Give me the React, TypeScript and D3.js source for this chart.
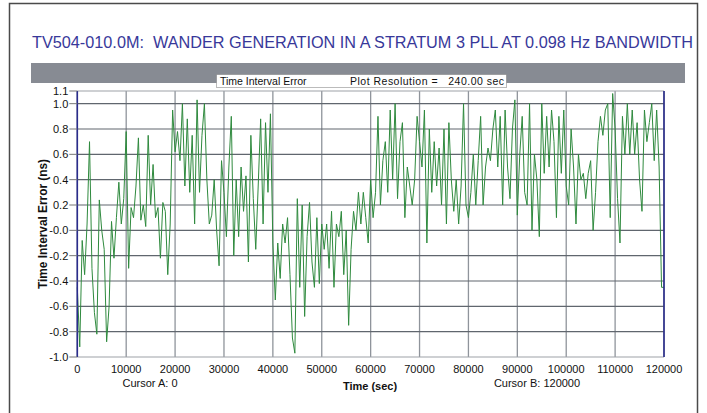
import React, { useEffect, useRef } from "react";
import * as d3 from "d3";

// TIE samples (ns), one every 500 s
const tie0to10k = [-0.45, -0.92, -0.08, -0.35, 0.05, 0.7, -0.3, -0.65, -0.82, 0.24, 0.0, -0.15, -0.88, -0.6, 0.07, -0.22, 0.1, 0.38, 0.05, 0.25];
const tie10to20k = [0.78, -0.3, 0.18, 0.1, 0.35, 0.73, 0.08, 0.2, 0.03, 0.75, 0.2, 0.52, 0.1, 0.18, -0.22, 0.22, 0.15, -0.35, 0.05, 0.95];
const tie20to30k = [0.62, 0.78, 0.55, 1.0, 0.35, 0.88, 0.3, 0.75, 0.05, 1.03, 0.3, 0.75, 1.0, 0.4, 0.05, 0.12, 0.4, 0.0, -0.28, 0.55];
const tie30to40k = [0.3, -0.05, 0.5, 0.9, -0.2, 0.4, -0.05, 0.5, 0.15, 0.43, -0.25, 0.75, 0.25, -0.15, 0.35, 0.88, 0.05, 0.85, 0.3, 0.92];
const tie40to50k = [-0.1, -0.55, -0.1, -0.38, 0.05, -0.1, 0.1, -0.35, -0.85, -0.97, 0.25, -0.45, 0.2, -0.68, -0.05, 0.22, -0.25, -0.45, 0.1, -0.42];
const tie50to60k = [0.05, -0.15, 0.05, -0.3, 0.15, -0.45, 0.05, -0.05, 0.15, -0.35, 0.0, -0.75, -0.15, 0.15, 0.0, 0.3, 0.05, 0.3, 0.1, -0.1];
const tie60to70k = [0.4, 0.1, 0.3, 0.9, 0.2, 0.55, 0.7, 0.3, 0.95, 0.4, 1.0, 0.25, 0.7, 0.85, 0.1, 0.5, 0.35, 0.2, 0.4, 0.9];
const tie70to80k = [0.7, 0.5, 0.95, -0.1, 0.8, 0.3, 0.7, 0.35, 0.65, 0.2, 0.8, 0.05, 0.85, 0.4, 0.15, 0.4, 0.05, 0.35, 1.0, 0.2];
const tie80to90k = [0.1, 0.3, 0.6, 0.2, 0.55, 0.9, 0.2, 0.5, 0.65, 0.55, 0.8, 0.95, 0.5, 0.9, 0.2, 0.95, 0.5, 0.25, 0.8, 1.03];
const tie90to100k = [0.12, 0.6, 0.9, 0.3, 0.2, 1.0, 0.0, 0.6, 0.4, -0.05, 1.0, 0.45, 0.9, 0.5, 0.95, 0.7, 0.1, 0.9, 0.45, 0.95];
const tie100to110k = [0.35, 0.2, 0.8, 0.5, 0.05, 0.6, 0.4, 0.45, 0.25, 0.45, 0.55, 0.0, 0.3, 0.7, 0.9, 0.75, 0.95, 1.0, 0.1, 1.08];
const tie110to120k = [0.8, 0.25, -0.1, 0.9, 0.6, 1.0, 0.6, 0.95, 0.6, 0.85, 0.4, 0.15, 0.95, 0.7, 0.85, 1.0, 0.55, 0.95, 0.5, -0.45, -0.45];

const sampleStep = 500; // sec between samples

const xTicks = [0, 10000, 20000, 30000, 40000, 50000, 60000, 70000, 80000, 90000, 100000, 110000, 120000];
const yTicks = [-1.0, -0.8, -0.6, -0.4, -0.2, 0.0, 0.2, 0.4, 0.6, 0.8, 1.0, 1.1];
const yTickLabels = ["-1.0", "-0.8", "-0.6", "-0.4", "-0.2", "-0.0", "0.2", "0.4", "0.6", "0.8", "1.0", "1.1"];

const title = "TV504-010.0M:  WANDER GENERATION IN A STRATUM 3 PLL AT 0.098 Hz BANDWIDTH";
const FONT = "'Liberation Sans', Arial, Helvetica, sans-serif";

export default function App() {
  const svgRef = useRef<SVGSVGElement>(null);

  useEffect(() => {
    if (!svgRef.current) return;
    const svg = d3.select(svgRef.current);
    svg.selectAll("*").remove();

    const values = [
      ...tie0to10k, ...tie10to20k, ...tie20to30k, ...tie30to40k,
      ...tie40to50k, ...tie50to60k, ...tie60to70k, ...tie70to80k,
      ...tie80to90k, ...tie90to100k, ...tie100to110k, ...tie110to120k,
    ];
    const data = values.map((v, i) => ({ t: i * sampleStep, v }));

    const left = 77.3, right = 664, top = 91, bottom = 357;

    const x = d3.scaleLinear().domain([0, 120000]).range([left, right]);
    const y = d3.scaleLinear().domain([-1, 1.1]).range([bottom, top]);

    // outer frame
    svg.append("rect")
      .attr("x", 9.5).attr("y", 3.5)
      .attr("width", 688).attr("height", 420)
      .attr("fill", "#fff")
      .attr("stroke", "#4a4a4a")
      .attr("stroke-width", 1.5);

    svg.append("text")
      .attr("x", 32).attr("y", 48)
      .attr("textLength", 661)
      .attr("lengthAdjust", "spacingAndGlyphs")
      .attr("fill", "#38389a")
      .style("font-family", FONT)
      .style("font-size", "16px")
      .style("white-space", "pre")
      .text(title);

    // gray header bar
    svg.append("rect")
      .attr("x", 31).attr("y", 63)
      .attr("width", 654).attr("height", 20)
      .attr("fill", "#878b93");

    // legend-ish box
    svg.append("rect")
      .attr("x", 216.5).attr("y", 74.5)
      .attr("width", 290).attr("height", 13)
      .attr("fill", "#fff")
      .attr("stroke", "#777")
      .attr("stroke-dasharray", "1,1");
    svg.append("text")
      .attr("x", 220).attr("y", 85)
      .attr("fill", "#111")
      .style("font-family", FONT)
      .style("font-size", "10.5px")
      .text("Time Interval Error");
    svg.append("text")
      .attr("x", 350).attr("y", 85)
      .attr("textLength", 154)
      .attr("lengthAdjust", "spacing")
      .attr("fill", "#111")
      .style("font-family", FONT)
      .style("font-size", "10.5px")
      .style("white-space", "pre")
      .text("Plot Resolution =   240.00 sec");

    const g = svg.append("g");

    // grid
    g.selectAll("line.vg")
      .data(xTicks)
      .join("line")
      .attr("class", "vg")
      .attr("x1", (d) => x(d)).attr("x2", (d) => x(d))
      .attr("y1", top).attr("y2", bottom)
      .attr("stroke", "#8f949b")
      .attr("stroke-width", 1.3);

    g.selectAll("line.hg")
      .data(yTicks)
      .join("line")
      .attr("class", "hg")
      .attr("x1", left).attr("x2", right)
      .attr("y1", (d) => y(d)).attr("y2", (d) => y(d))
      .attr("stroke", (d) => (d === 1.1 || d === -1.0 ? "#9ea2a8" : "#60666e"))
      .attr("stroke-width", 1.2);

    // the trace
    const line = d3.line<{ t: number; v: number }>()
      .x((d) => x(d.t))
      .y((d) => y(d.v));

    g.append("path")
      .datum(data)
      .attr("fill", "none")
      .attr("stroke", "#2f8a3e")
      .attr("stroke-width", 1)
      .attr("stroke-linejoin", "round")
      .attr("d", line);

    // left axis + right edge
    g.append("line")
      .attr("x1", left).attr("x2", left)
      .attr("y1", top).attr("y2", bottom)
      .attr("stroke", "#2a2c8c").attr("stroke-width", 1.6);
    g.append("line")
      .attr("x1", right).attr("x2", right)
      .attr("y1", top).attr("y2", bottom)
      .attr("stroke", "#2a2c8c").attr("stroke-width", 1.6);

    // y ticks + labels
    const yAxis = g.append("g");
    yTicks.forEach((d, i) => {
      yAxis.append("line")
        .attr("x1", left - 8).attr("x2", left)
        .attr("y1", y(d)).attr("y2", y(d))
        .attr("stroke", "#777").attr("stroke-width", 1);
      yAxis.append("text")
        .attr("x", left - 9).attr("y", y(d) + 4)
        .attr("text-anchor", "end")
        .attr("fill", "#111")
        .style("font-family", FONT)
        .style("font-size", "11px")
        .text(yTickLabels[i]);
    });

    // x tick labels
    g.selectAll("text.xt")
      .data(xTicks)
      .join("text")
      .attr("class", "xt")
      .attr("x", (d) => x(d))
      .attr("y", 373)
      .attr("text-anchor", "middle")
      .attr("fill", "#111")
      .style("font-family", FONT)
      .style("font-size", "11px")
      .text((d) => String(d));

    svg.append("text")
      .attr("x", 150).attr("y", 387)
      .attr("text-anchor", "middle")
      .attr("fill", "#111")
      .style("font-family", FONT)
      .style("font-size", "11px")
      .text("Cursor A: 0");
    svg.append("text")
      .attr("x", 537).attr("y", 387)
      .attr("text-anchor", "middle")
      .attr("fill", "#111")
      .style("font-family", FONT)
      .style("font-size", "11px")
      .text("Cursor B: 120000");
    svg.append("text")
      .attr("x", 370).attr("y", 390)
      .attr("text-anchor", "middle")
      .attr("fill", "#111")
      .style("font-family", FONT)
      .style("font-size", "11px")
      .style("font-weight", "bold")
      .text("Time (sec)");

    svg.append("text")
      .attr("transform", `translate(47,${(top + bottom) / 2}) rotate(-90)`)
      .attr("text-anchor", "middle")
      .attr("textLength", 130)
      .attr("lengthAdjust", "spacingAndGlyphs")
      .attr("fill", "#111")
      .style("font-family", FONT)
      .style("font-size", "12px")
      .style("font-weight", "bold")
      .text("Time Interval Error (ns)");
  }, []);

  return (
    <div style={{ position: "absolute", left: 0, top: 0, width: 707, height: 413, overflow: "hidden" }}>
      <svg ref={svgRef} width={707} height={413} style={{ display: "block" }} />
    </div>
  );
}
